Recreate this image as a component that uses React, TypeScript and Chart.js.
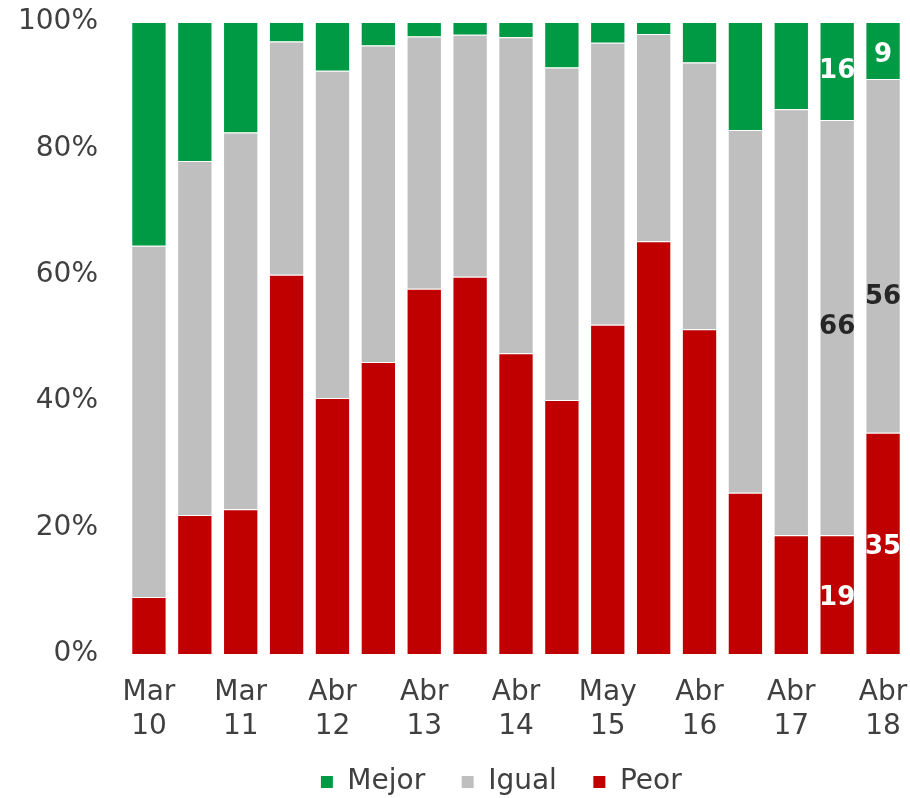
import React, { useEffect, useRef } from "react";
import { Chart, registerables } from "chart.js";

Chart.register(...registerables);

const categories: string[] = [
  "Mar 10", "", "Mar 11", "", "Abr 12", "", "Abr 13", "", "Abr 14",
  "", "May 15", "", "Abr 16", "", "Abr 17", "", "Abr 18",
];

const mejor: number[] = [35.4, 22, 17.5, 3.1, 7.7, 3.7, 2.3, 2, 2.4, 7.2, 3.3, 1.9, 6.4, 17.1, 13.8, 15.5, 9];
const igual: number[] = [55.6, 56, 59.6, 36.9, 51.8, 50.1, 39.9, 38.3, 50, 52.6, 44.6, 32.8, 42.2, 57.4, 67.4, 65.7, 56];
const peor: number[] = [9, 22, 22.9, 60, 40.5, 46.2, 57.8, 59.7, 47.6, 40.2, 52.1, 65.3, 51.4, 25.5, 18.8, 18.8, 35];

const yTicks: number[] = [0, 20, 40, 60, 80, 100];
const labelledBars: number[] = [15, 16];

const FONT = "'DejaVu Sans', Verdana, sans-serif";
const TEXT = "#404040";

const labelPlugin = {
  id: "segmentLabels",
  afterLayout(chart: any) {
    const lg = chart.legend;
    if (!lg) return;
    lg.top = 732;
    lg.bottom = 798;
    lg.height = 66;
    lg.left += 48;
    lg.right += 48;
  },
  afterDatasetsDraw(chart: any) {
    const ctx = chart.ctx;
    ctx.save();
    ctx.font = `bold 26px ${FONT}`;
    ctx.textAlign = "center";
    ctx.textBaseline = "middle";
    chart.data.datasets.forEach((ds: any, di: number) => {
      const meta = chart.getDatasetMeta(di);
      labelledBars.forEach((idx) => {
        const el: any = meta.data[idx];
        if (!el) return;
        const v = ds.data[idx];
        let cy = (el.y + el.base) / 2;
        if (idx === 16 && ds.label === "Igual") cy += 41;
        if (idx === 16 && ds.label === "Mejor") cy += 5;
        if (ds.label === "Peor") cy += 4;
        ctx.fillStyle = ds.label === "Igual" ? "#262626" : "#ffffff";
        ctx.fillText(String(Math.round(v)), el.x, cy);
      });
    });
    ctx.restore();
  },
};

export default function App() {
  const ref = useRef<HTMLCanvasElement | null>(null);
  useEffect(() => {
    document.body.style.margin = "0";
    if (!ref.current) return;
    const chart = new Chart(ref.current, {
      type: "bar",
      data: {
        labels: categories,
        datasets: [
          { label: "Peor", data: peor, backgroundColor: "#C00000", borderColor: "#ffffff", borderWidth: 1 },
          { label: "Igual", data: igual, backgroundColor: "#BFBFBF", borderColor: "#ffffff", borderWidth: 1 },
          { label: "Mejor", data: mejor, backgroundColor: "#009A44", borderColor: "#ffffff", borderWidth: 1 },
        ],
      },
      options: {
        animation: false,
        responsive: false,
        maintainAspectRatio: false,
        layout: { padding: { left: 0, right: 4, top: 22, bottom: 0 } },
        datasets: { bar: { barPercentage: 0.77, categoryPercentage: 1 } },
        scales: {
          x: {
            stacked: true,
            grid: { display: false, drawTicks: false },
            border: { display: false },
            afterFit: (axis: any) => {
              axis.height = 91;
              axis.paddingLeft = 0;
              axis.paddingRight = 0;
            },
            ticks: {
              autoSkip: false,
              maxRotation: 0,
              minRotation: 0,
              padding: 22,
              color: TEXT,
              font: { family: FONT, size: 28, lineHeight: 1.21 },
              callback: (_v: any, i: number) => {
                const c = categories[i];
                return c ? c.split(" ") : "";
              },
            },
          },
          y: {
            stacked: true,
            min: 0,
            max: 100,
            grid: { display: false, drawTicks: false },
            border: { display: false },
            afterFit: (axis: any) => {
              axis.width = 126;
              axis.paddingTop = 0;
              axis.paddingBottom = 0;
            },
            afterBuildTicks: (axis: any) => {
              axis.ticks = yTicks.map((v) => ({ value: v }));
            },
            ticks: {
              padding: 28,
              color: TEXT,
              font: { family: FONT, size: 28 },
              callback: (v: any) => `${v}%`,
            },
          },
        },
        plugins: {
          legend: {
            position: "bottom",
            reverse: true,
            maxHeight: 53,
            labels: {
              boxWidth: 13,
              boxHeight: 13,
              padding: 36,
              color: TEXT,
              font: { family: FONT, size: 28 },
            },
          },
          tooltip: { enabled: false },
        },
      },
      plugins: [labelPlugin],
    });
    return () => chart.destroy();
  }, []);
  return (
    <div style={{ width: 910, height: 798 }}>
      <canvas ref={ref} width={910} height={798} style={{ width: 910, height: 798 }} />
    </div>
  );
}
